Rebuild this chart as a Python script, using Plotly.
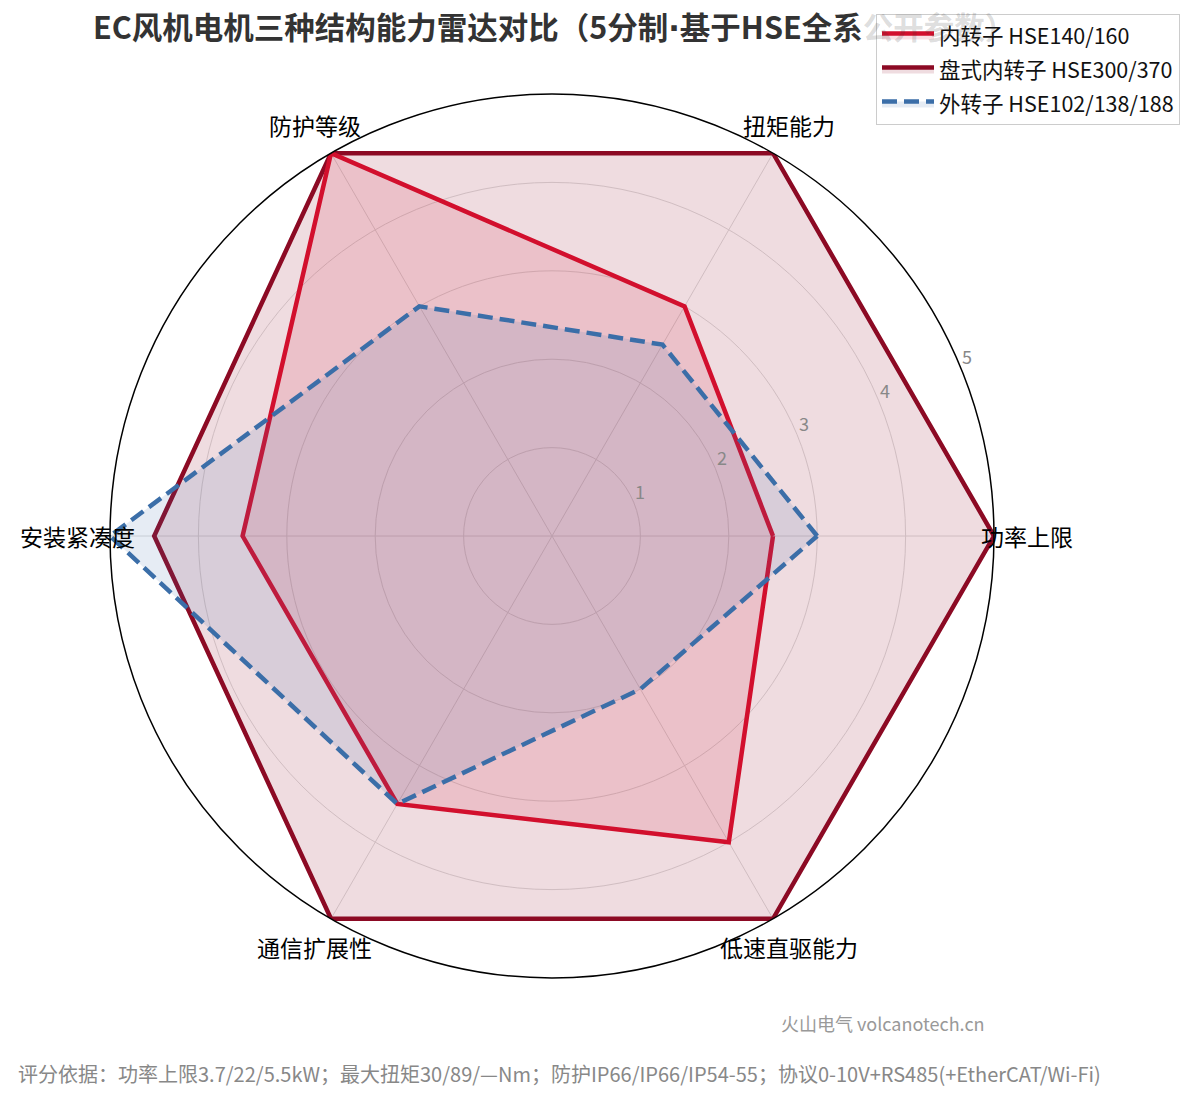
import math
import plotly.graph_objects as go

# 能力维度（逆时针，从右侧开始）
dims = ["功率上限", "扭矩能力", "防护等级", "安装紧凑度", "通信扩展性", "低速直驱能力"]

# 5分制评分
inner = [2.5, 3.0, 5.0, 3.5, 3.5, 4.0]      # 内转子 HSE140/160
disc = [5.0, 5.0, 5.0, 4.5, 5.0, 5.0]       # 盘式内转子 HSE300/370
outer = [3.0, 2.5, 3.0, 5.0, 3.5, 2.0]      # 外转子 HSE102/138/188

r_ticks = [1, 2, 3, 4, 5]
R_MAX = 5

FONT = "Noto Sans CJK SC"
W, H = 1196, 1098
OFF = 8  # page body margin
L, R, T, B = 110 - OFF, 202 + OFF, 94 - OFF, 120 + OFF
PW, PH = W - L - R, H - T - B


def closed(v):
    return v + v[:1]


def px(x, y):
    # screenshot pixel -> paper coords
    return (x - OFF - L) / PW, (H - B - (y - OFF)) / PH


def polar_paper(r, deg):
    # polar domain fills the (square) plot area, centre at (0.5, 0.5)
    a = math.radians(deg)
    k = 0.5 * r / R_MAX
    return 0.5 + k * math.cos(a), 0.5 + k * math.sin(a)


fig = go.Figure()

# draw order: dark red, red, blue (blue on top); legend order via legendrank
fig.add_trace(go.Scatterpolar(
    r=closed(disc), theta=closed(dims), name="盘式内转子 HSE300/370",
    mode="lines", line=dict(color="#8c0a24", width=4.5),
    fill="toself", fillcolor="rgba(140,10,36,0.14)", legendrank=2, legendgroup="b",
))
fig.add_trace(go.Scatterpolar(
    r=closed(inner), theta=closed(dims), name="内转子 HSE140/160",
    mode="lines", line=dict(color="#d20f2d", width=4.5),
    fill="toself", fillcolor="rgba(210,15,45,0.13)", legendrank=1, legendgroup="a",
))
fig.add_trace(go.Scatterpolar(
    r=closed(outer), theta=closed(dims), name="外转子 HSE102/138/188",
    mode="lines", line=dict(color="#3b6ea8", width=4.5, dash="15px,7px"),
    fill="toself", fillcolor="rgba(59,110,168,0.13)", legendrank=3, legendgroup="c",
))

annots = []
# 维度标签（略压外圈）
for i, d in enumerate(dims):
    x, y = polar_paper(5.37, 360 / len(dims) * i)
    annots.append(dict(text=d, xref="paper", yref="paper", x=x, y=y,
                       xanchor="center", yanchor="middle", showarrow=False,
                       font=dict(size=23, color="black")))
# 径向刻度标签
for v in r_ticks:
    x, y = polar_paper(v + 0.12, 22.5)
    annots.append(dict(text=str(v), xref="paper", yref="paper", x=x, y=y,
                       xanchor="center", yanchor="middle", showarrow=False,
                       xshift=-3, yshift=7, font=dict(size=18, color="#888")))

wx, wy = px(987, 1023)
fx, fy = px(16, 1073)
annots += [
    dict(text="火山电气 volcanotech.cn", xref="paper", yref="paper",
         x=wx, y=wy, xanchor="right", yanchor="middle",
         showarrow=False, font=dict(size=18, color="#999")),
    dict(text="评分依据：功率上限3.7/22/5.5kW；最大扭矩30/89/—Nm；防护IP66/IP66/IP54-55；协议0-10V+RS485(+EtherCAT/Wi-Fi)",
         xref="paper", yref="paper",
         x=fx, y=fy, xanchor="left", yanchor="middle",
         showarrow=False, font=dict(size=20, color="#888")),
]

title_txt = ("<b>EC风机电机三种结构能力雷达对比（5分制"
             "<span style='font-family:DejaVu Sans'>·</span>基于HSE全系"
             "<span style='color:rgba(51,51,51,0.18)'>公开参数）</span></b>")

fig.update_layout(
    width=W, height=H,
    margin=dict(l=L, r=R, t=T, b=B, autoexpand=False),
    paper_bgcolor="white",
    font=dict(family=FONT, color="#111"),
    title=dict(
        text=title_txt,
        x=(93 - OFF) / W, xanchor="left", y=1 - (28 - OFF) / H, yanchor="middle",
        font=dict(size=30.5, color="#333", family=FONT),
    ),
    polar=dict(
        bgcolor="white",
        radialaxis=dict(
            range=[0, R_MAX], tickvals=r_ticks, showticklabels=False,
            showline=False, ticks="", gridcolor="#dcdcdc", gridwidth=1,
        ),
        angularaxis=dict(
            direction="counterclockwise", rotation=0,
            showline=True, linecolor="black", linewidth=1.5,
            gridcolor="#dcdcdc", ticks="", showticklabels=False,
        ),
    ),
    legend=dict(
        xref="container", yref="container",
        x=(1180 - OFF) / W, xanchor="right", y=1 - (14 - OFF) / H, yanchor="top",
        bgcolor="rgba(255,255,255,0.85)", bordercolor="#cccccc", borderwidth=1,
        font=dict(size=21.5, color="#111"), tracegroupgap=3, itemwidth=52,
    ),
    annotations=annots,
)

fig.write_html("out.html")
